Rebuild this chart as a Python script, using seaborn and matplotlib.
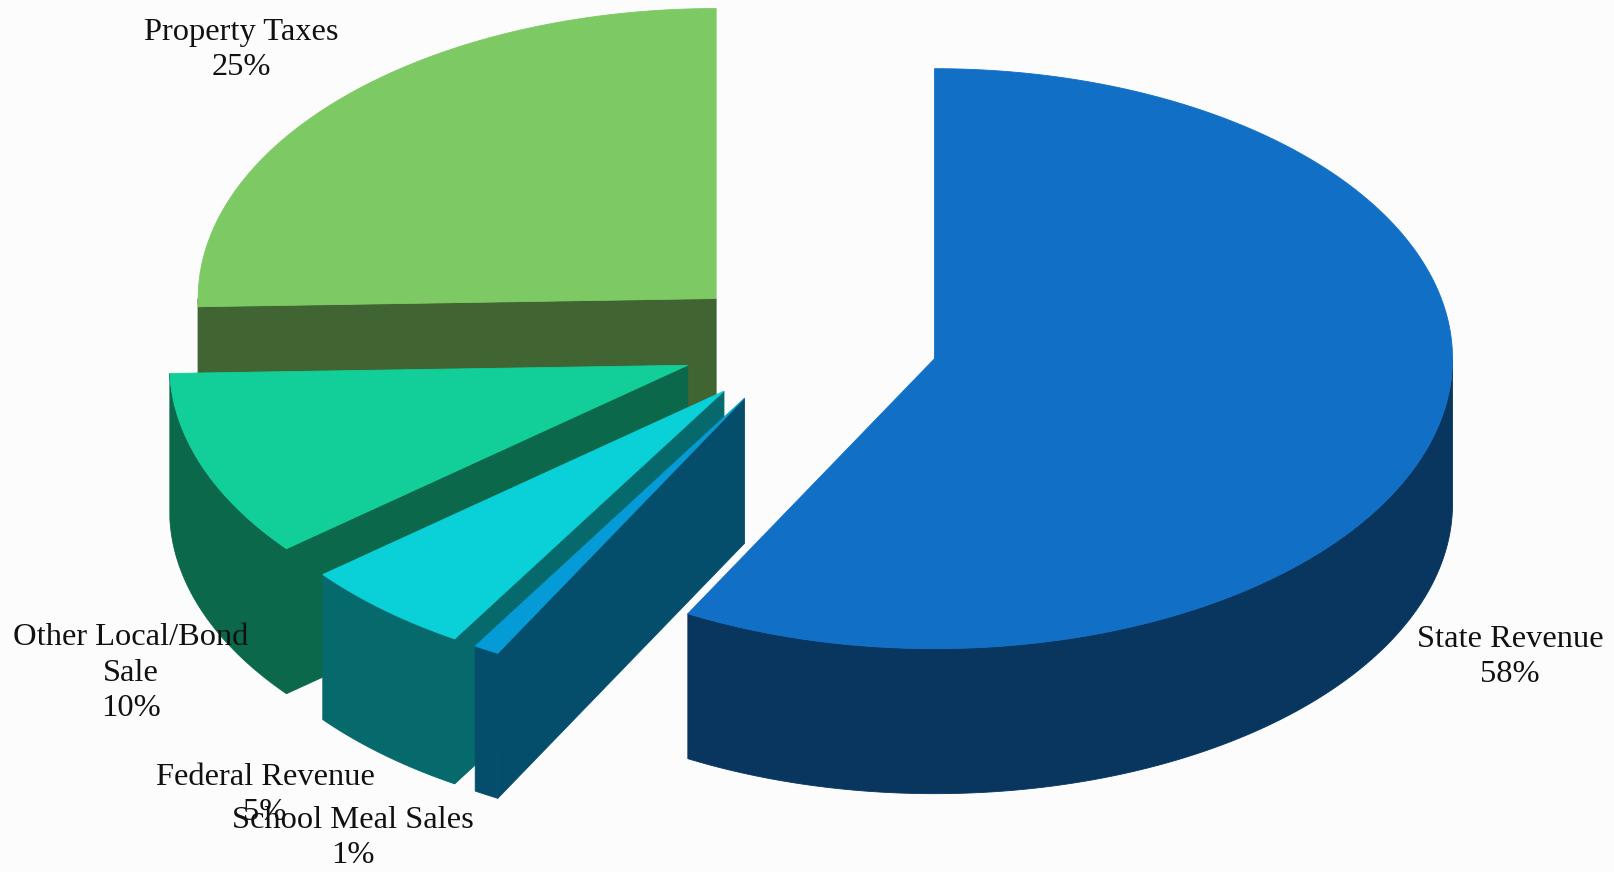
import numpy as np
import matplotlib
matplotlib.use("Agg")
import matplotlib.pyplot as plt
from matplotlib.patches import Polygon
import seaborn as sns

# ---- data (clockwise from 12 o'clock) ----
categories = ["State Revenue", "School Meal Sales", "Federal Revenue",
              "Other Local/Bond\nSale", "Property Taxes"]
values = [57.9, 0.8, 5.4, 10.45, 25.45]
pct_labels = ["58%", "1%", "5%", "10%", "25%"]

# ---- style ----
top_colors = ["#1170C6", "#049BD6", "#0AD0D8", "#12CF99", "#7DCA64"]
side_colors = ["#09365F", "#044D6B", "#06696B", "#0B684B", "#406432"]
label_xy = [(1510, 657), (353, 838), (265, 795), (131, 673), (241, 50)]

sns.set_theme(style="white")
plt.rcParams['font.family'] = ['Liberation Serif', 'DejaVu Serif']

W, H = 1614, 872
fig = plt.figure(figsize=(W / 100, H / 100), dpi=100)
fig.patch.set_facecolor("#FCFCFC")
ax = fig.add_axes([0, 0, 1, 1])
ax.set_xlim(0, W)
ax.set_ylim(H, 0)
ax.axis("off")
ax.set_facecolor("#FCFCFC")

cx, cy = 809, 343       # pie centre (pixels)
a, b = 518, 290         # ellipse radii
depth = 145
explode_x, explode_y = 0.25, 0.22

vals = np.array(values, dtype=float)
fracs = vals / vals.sum()
spans = []
start = 90.0
for f in fracs:
    lo = start - f * 360
    spans.append((lo, start))
    start = lo


def pt(t, ox, oy, dz=0.0):
    r = np.radians(t)
    return (ox + a * np.cos(r), oy - b * np.sin(r) + dz)


def arc(t0, t1, ox, oy, dz=0.0, n=None):
    if n is None:
        n = max(2, int(abs(t1 - t0) * 2) + 2)
    ts = np.linspace(t0, t1, n)
    return [pt(t, ox, oy, dz) for t in ts]


slices = []
for i, (lo, hi) in enumerate(spans):
    mid = np.radians((lo + hi) / 2)
    ox = cx + explode_x * a * np.cos(mid)
    oy = cy - explode_y * b * np.sin(mid)
    slices.append((i, lo, hi, ox, oy, np.sin(mid)))

# painter's order: back (larger sin) first
order = sorted(slices, key=lambda s: -s[5])

for i, lo, hi, ox, oy, _ in order:
    sc = side_colors[i]
    tc = top_colors[i]
    # radial walls
    for edge, normal in ((hi, hi + 90), (lo, lo - 90)):
        if np.sin(np.radians(normal)) < -1e-6:
            p = pt(edge, ox, oy)
            poly = [(ox, oy), p, (p[0], p[1] + depth), (ox, oy + depth)]
            ax.add_patch(Polygon(poly, closed=True, facecolor=sc,
                                 edgecolor=sc, lw=0.6))
    # outer (front) wall
    for k in (-2, -1, 0, 1):
        f0, f1 = -180 + 360 * k, 360 * k
        s0, s1 = max(lo, f0), min(hi, f1)
        if s1 > s0:
            top = arc(s0, s1, ox, oy)
            bot = arc(s1, s0, ox, oy, depth)
            ax.add_patch(Polygon(top + bot, closed=True, facecolor=sc,
                                 edgecolor=sc, lw=0.6))
    # top face
    poly = [(ox, oy)] + arc(lo, hi, ox, oy)
    ax.add_patch(Polygon(poly, closed=True, facecolor=tc,
                         edgecolor=tc, lw=0.6))

for i, (x, y) in enumerate(label_xy):
    ax.text(x, y, f"{categories[i]}\n{pct_labels[i]}", ha="center",
            va="center", multialignment="center", fontsize=23.4,
            color="#111111", linespacing=1.3)

fig.savefig("out.png", dpi=100, facecolor=fig.get_facecolor())
